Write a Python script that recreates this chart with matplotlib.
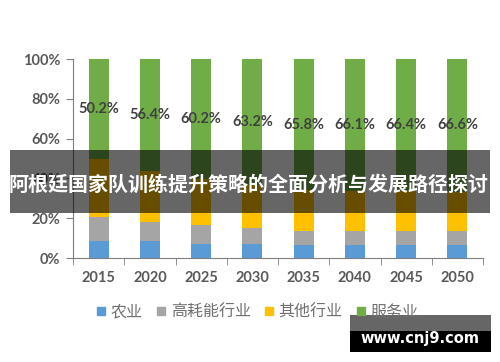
import matplotlib
matplotlib.use("Agg")
import matplotlib.pyplot as plt
import numpy as np
from matplotlib.patches import Rectangle
from matplotlib.lines import Line2D

# data (percent of total)
years = ["2015", "2020", "2025", "2030", "2035", "2040", "2045", "2050"]
agriculture = [8.5, 8.5, 7.3, 6.9, 6.5, 6.5, 6.4, 6.4]
high_energy = [12.1, 9.7, 9.3, 8.0, 7.2, 7.2, 7.3, 7.3]
other_industry = [29.2, 25.4, 23.2, 21.9, 20.5, 20.2, 19.9, 19.7]
services = [50.2, 56.4, 60.2, 63.2, 65.8, 66.1, 66.4, 66.6]
series_names = ["农业", "高耗能行业", "其他行业", "服务业"]
y_ticks = [0, 20, 40, 60, 80, 100]

colors = ["#5B9BD5", "#A5A5A5", "#FFC000", "#70AD47"]
cjk = ["Noto Sans CJK SC", "DejaVu Sans"]
num_font = ["Lato", "DejaVu Sans"]
text_gray = "#595959"

fig = plt.figure(figsize=(5, 3.62), dpi=100)
ax = fig.add_axes([0.146, 0.287, 0.82, 0.55])

x = np.arange(len(years))
width = 0.39
bottom = np.zeros(len(years))
for vals, color in zip([agriculture, high_energy, other_industry, services], colors):
    ax.bar(x, vals, width, bottom=bottom, color=color, zorder=2)
    bottom += np.array(vals)

# data labels centred in the services segment
svc_bottom = bottom - np.array(services)
for xi, b, v in zip(x, svc_bottom, services):
    ax.text(xi, b + v / 2, f"{v:.1f}%", ha="center", va="center",
            fontsize=10.5, color="#404040", family=num_font, fontweight="bold")

ax.set_xlim(-0.5, len(years) - 0.5)
ax.set_ylim(0, 100)
ax.set_yticks(y_ticks)
ax.set_yticklabels([f"{t}%" for t in y_ticks], family=num_font, fontsize=10.5,
                   color=text_gray, fontweight="bold")
ax.set_xticks(x)
ax.set_xticklabels(years, family=num_font, fontsize=10.5, color=text_gray,
                   fontweight="bold")
ax.set_xticks(np.arange(-0.5, len(years)), minor=True)
ax.tick_params(axis="x", which="major", length=0, pad=9)
ax.tick_params(axis="x", which="minor", length=5, color="#7f7f7f", direction="out")
ax.tick_params(axis="y", length=5, color="#7f7f7f", pad=4)
for side in ["top", "right"]:
    ax.spines[side].set_visible(False)
for side in ["left", "bottom"]:
    ax.spines[side].set_color("#7f7f7f")

# legend
handles = [Line2D([0], [0], marker="s", linestyle="", markersize=6,
                  markerfacecolor=c, markeredgecolor=c) for c in colors]
fig.legend(handles, series_names, loc="center", bbox_to_anchor=(0.515, 0.138),
           ncol=4, frameon=False, prop={"family": cjk, "size": 11.5},
           handlelength=0.6, handletextpad=0.3, columnspacing=0.85,
           labelcolor="#6f6f6f")

# overlay banner
fig.patches.append(Rectangle((0.02, 0.4116), 0.96, 0.174, transform=fig.transFigure,
                             facecolor="black", alpha=0.6, zorder=5))
fig.text(0.498, 0.491, "阿根廷国家队训练提升策略的全面分析与发展路径探讨",
         ha="center", va="center", color="white", fontsize=14.4,
         family=cjk, fontweight="bold", zorder=6)

# watermark box
fig.patches.append(Rectangle((0.70, 1 - 331 / 362), 0.282, 16 / 362,
                             transform=fig.transFigure, facecolor="#666666", zorder=5))
fig.patches.append(Rectangle((0.70, 1 - 352 / 362), 0.282, 21 / 362,
                             transform=fig.transFigure, facecolor="black", zorder=5))
fig.text(0.839, 1 - 338 / 362, "www.cnj9.com", ha="center", va="center",
         color="white", fontsize=10.5, family="DejaVu Sans", fontweight="bold", zorder=6)

fig.savefig("out.png", dpi=100)
